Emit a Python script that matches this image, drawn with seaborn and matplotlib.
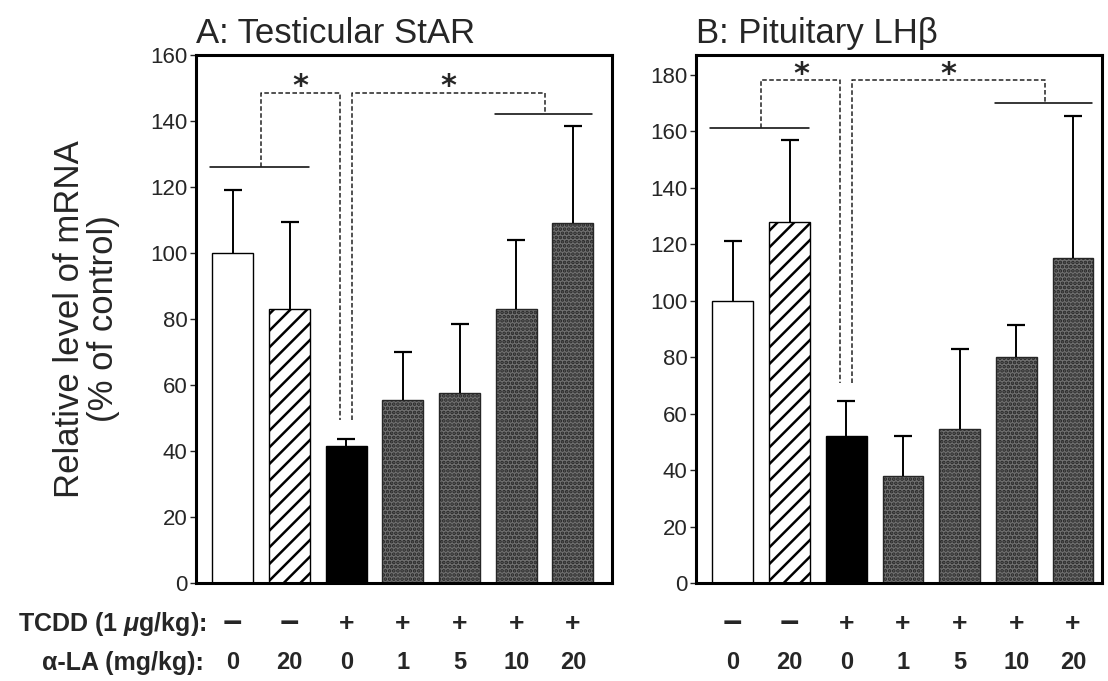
import numpy as np
import pandas as pd
import matplotlib
matplotlib.use('Agg')
import matplotlib.pyplot as plt
import seaborn as sns
from matplotlib.transforms import blended_transform_factory

# ---------------- data ----------------
groups = ['Control', 'LA20', 'TCDD', 'TCDD+LA1', 'TCDD+LA5', 'TCDD+LA10', 'TCDD+LA20']
tcdd_labels = ['\u2212', '\u2212', '+', '+', '+', '+', '+']
la_labels = ['0', '20', '0', '1', '5', '10', '20']

star_mean = [100, 83, 41.5, 55.5, 57.5, 83, 109]
star_upper = [119, 109.5, 43.5, 70, 78.5, 104, 138.5]
lhb_mean = [100, 128, 52, 38, 54.5, 80, 115]
lhb_upper = [121, 157, 64.5, 52, 83, 91.5, 165.5]

# bracket levels: [left group line, right group line, bracket top, stop above TCDD bar]
star_brackets = [126, 142, 148.5, 49.5]
lhb_brackets = [161, 170, 178, 71]
star_asterisk_y = 151.5
lhb_asterisk_y = 181

star_yticks = [0, 20, 40, 60, 80, 100, 120, 140, 160]
lhb_yticks = [0, 20, 40, 60, 80, 100, 120, 140, 160, 180]

# ---------------- style ----------------
sns.set_style('white')
plt.rcParams['font.family'] = ['Liberation Sans', 'DejaVu Sans']
plt.rcParams['mathtext.fontset'] = 'custom'
plt.rcParams['mathtext.it'] = 'Liberation Sans:italic:bold'
plt.rcParams['mathtext.rm'] = 'Liberation Sans:bold'
plt.rcParams['hatch.linewidth'] = 1.8

W, H = 1108, 681
fig = plt.figure(figsize=(W / 100, H / 100), dpi=100)

def fx(px):
    return px / W

def fy(py):
    return 1 - py / H

axA = fig.add_axes([fx(196), fy(583), fx(612) - fx(196), fy(55) - fy(583)])
axB = fig.add_axes([fx(696), fy(583), fx(1102) - fx(696), fy(55) - fy(583)])

styles = [
    dict(facecolor='white', hatch=None),
    dict(facecolor='white', hatch='//'),
    dict(facecolor='black', hatch=None),
    dict(facecolor='#707070', hatch='....'),
    dict(facecolor='#707070', hatch='....'),
    dict(facecolor='#707070', hatch='....'),
    dict(facecolor='#707070', hatch='....'),
]

dash = (0, (3.0, 1.6))


def panel(ax, means, uppers, ylim, yticks, xlim, title, br, ast_y):
    df = pd.DataFrame({'group': groups, 'value': means})
    sns.barplot(data=df, x='group', y='value', order=groups, hue='group',
                hue_order=groups, palette=['white'] * len(groups), legend=False,
                width=0.72, errorbar=None, ax=ax, zorder=2)
    patches = sorted(ax.patches, key=lambda p: p.get_x())
    for p, st in zip(patches, styles):
        p.set_facecolor(st['facecolor'])
        p.set_edgecolor('black')
        p.set_linewidth(1.0)
        if st['hatch']:
            p.set_hatch(st['hatch'])
            if st['facecolor'] != 'white':
                p.set_edgecolor('#262626')
    xs = np.arange(len(groups))
    m = np.array(means)
    u = np.array(uppers)
    # upper-only error bars with a cap at the top
    ax.vlines(xs, m, u, colors='black', lw=1.4, zorder=3)
    ax.plot(xs, u, ls='none', marker='_', markersize=13, mew=1.6,
            color='black', zorder=3)

    # significance brackets
    ax.plot([-0.40, 1.34], [br[0], br[0]], color='black', lw=1.1, zorder=4)
    ax.plot([4.62, 6.34], [br[1], br[1]], color='black', lw=1.1, zorder=4)
    kw = dict(color='#222222', lw=1.1, ls=dash, zorder=4)
    ax.plot([0.5, 0.5, 1.89, 1.89], [br[0], br[2], br[2], br[3]], **kw)
    ax.plot([2.10, 2.10, 5.5, 5.5], [br[3], br[2], br[2], br[1]], **kw)
    for xa in (1.2, 3.8):
        ax.text(xa, ast_y, '*', ha='center', va='center_baseline', fontsize=22,
                fontweight='bold', family='DejaVu Sans', zorder=5)

    ax.set_xlim(*xlim)
    ax.set_ylim(*ylim)
    ax.set_yticks(yticks)
    ax.set_yticklabels([str(t) for t in yticks])
    ax.tick_params(axis='y', direction='out', length=4, width=1.0, pad=2,
                   labelsize=16, left=True)
    ax.set_xticks([])
    ax.set_xlabel('')
    ax.set_ylabel('')
    for s in ax.spines.values():
        s.set_visible(True)
        s.set_color('black')
        s.set_linewidth(2.2)
    ax.set_title(title, loc='left', fontsize=25, pad=8.5)

    trans = blended_transform_factory(ax.transData, ax.transAxes)
    for i, (t, l) in enumerate(zip(tcdd_labels, la_labels)):
        size = 24 if t == '\u2212' else 19
        ax.text(i, -0.0780, t, transform=trans, ha='center', va='center',
                fontsize=size, fontweight='bold', clip_on=False)
        ax.text(i, -0.1510, l, transform=trans, ha='center', va='center',
                fontsize=17, fontweight='bold', clip_on=False)


panel(axA, star_mean, star_upper, (0, 160), star_yticks, (-0.65, 6.69),
      'A: Testicular StAR', star_brackets, star_asterisk_y)
panel(axB, lhb_mean, lhb_upper, (0, 187), lhb_yticks, (-0.65, 6.51),
      'B: Pituitary LH\u03b2', lhb_brackets, lhb_asterisk_y)

axA.set_ylabel('Relative level of mRNA\n(% of control)', fontsize=25, linespacing=1.05)
axA.yaxis.set_label_coords(-0.183, 0.5)

fig.text(fx(206), fy(624), 'TCDD (1 $\\mu$g/kg):', ha='right', va='center',
         fontsize=18, fontweight='bold')
fig.text(fx(204), fy(663), '\u03b1-LA (mg/kg):', ha='right', va='center',
         fontsize=18, fontweight='bold')

fig.savefig('out.png', dpi=100)
